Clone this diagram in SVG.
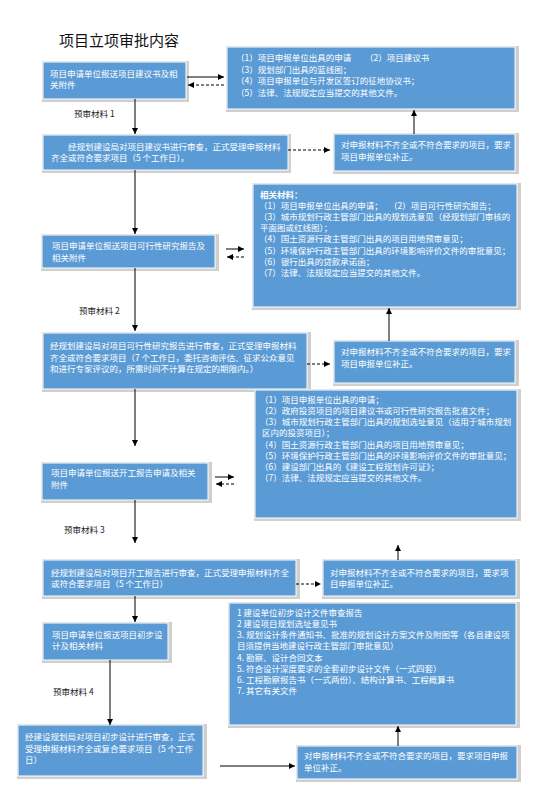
<svg xmlns="http://www.w3.org/2000/svg" width="560" height="792" viewBox="0 0 560 792">
<style>
.sh{fill:#cfcfcf}
.bx{fill:#5b9bd5;stroke:#ffffff;stroke-width:1}
.t{font-family:"Noto Sans CJK SC","Liberation Sans",sans-serif;font-size:8.5px;fill:#ffffff}
.b{font-weight:bold}
.lbl{font-family:"Noto Sans CJK SC","Liberation Sans",sans-serif;font-size:8.5px;fill:#222222}
.title{font-family:"Noto Sans CJK SC","Liberation Sans",sans-serif;font-size:15px;fill:#111111}
.ln{stroke:#000000;stroke-width:1;fill:none}
.ds{stroke:#000000;stroke-width:1;fill:none;stroke-dasharray:3,2}
.gr{stroke:#7f7f7f;stroke-width:1.8;fill:none}
</style>
<defs>
<marker id="ah" viewBox="0 0 6 6" refX="6" refY="3" markerWidth="6" markerHeight="6" markerUnits="userSpaceOnUse" orient="auto">
<path d="M0,0 L6,3 L0,6 z" fill="#000000"/>
</marker>
<marker id="ahg" viewBox="0 0 6 6" refX="6" refY="3" markerWidth="6" markerHeight="6" markerUnits="userSpaceOnUse" orient="auto">
<path d="M0,0 L6,3 L0,6 z" fill="#000000"/>
</marker>
</defs>
<rect width="560" height="792" fill="#ffffff"/>
<text class="title" x="59" y="46">项目立项审批内容</text>

<g id="n1">
<rect class="sh" x="42" y="61" width="147" height="41"/>
<rect class="bx" x="43" y="62" width="143" height="37"/>
<text class="t" x="50" y="76.5">项目申请单位报送项目建议书及相</text>
<text class="t" x="50" y="88">关附件</text>
</g>

<g id="n2">
<rect class="sh" x="226" y="46" width="293" height="66"/>
<rect class="bx" x="227" y="47" width="288" height="62"/>
<text class="t" x="236" y="61">（1）项目申报单位出具的申请</text>
<text class="t" x="365" y="61">（2）项目建议书</text>
<text class="t" x="236" y="72.5">（3）规划部门出具的蓝线图；</text>
<text class="t" x="236" y="84">（4）项目申报单位与开发区签订的征地协议书；</text>
<text class="t" x="236" y="95.5">（5）法律、法规规定应当提交的其他文件。</text>
</g>

<g id="n3">
<rect class="sh" x="42" y="134" width="249" height="39"/>
<rect class="bx" x="43" y="135" width="245" height="35"/>
<text class="t" x="68" y="149.5">经规划建设局对项目建议书进行审查，正式受理申报材料</text>
<text class="t" x="51" y="161">齐全或符合要求项目（5 个工作日）。</text>
</g>

<g id="n4">
<rect class="sh" x="333" y="133" width="186" height="41"/>
<rect class="bx" x="334" y="134" width="181" height="37"/>
<text class="t" x="341" y="148">对申报材料不齐全或不符合要求的项目，要求</text>
<text class="t" x="341" y="159.5">项目申报单位补正。</text>
</g>

<g id="n5">
<rect class="sh" x="252" y="183" width="269" height="127"/>
<rect class="bx" x="253" y="184" width="264" height="123"/>
<text class="t b" x="260" y="198">相关材料：</text>
<text class="t" x="259" y="209">（1）项目申报单位出具的申请；</text>
<text class="t" x="389" y="209">（2）项目可行性研究报告；</text>
<text class="t" x="259" y="220">（3）城市规划行政主管部门出具的规划选意见（经规划部门审核的</text>
<text class="t" x="260" y="231">平面图或红线图）；</text>
<text class="t" x="259" y="242">（4）国土资源行政主管部门出具的项目用地预审意见；</text>
<text class="t" x="259" y="253.5">（5）环境保护行政主管部门出具的环境影响评价文件的审批意见；</text>
<text class="t" x="259" y="264.5">（6）银行出具的贷款承诺函；</text>
<text class="t" x="259" y="275.5">（7）法律、法规规定应当提交的其他文件。</text>
</g>

<g id="n6">
<rect class="sh" x="41" y="234" width="178" height="37"/>
<rect class="bx" x="42" y="235" width="173" height="33"/>
<text class="t" x="52" y="249">项目申请单位报送项目可行性研究报告及</text>
<text class="t" x="52" y="260.5">相关附件</text>
</g>

<g id="n7">
<rect class="sh" x="42" y="332" width="269" height="60"/>
<rect class="bx" x="43" y="333" width="264" height="56"/>
<text class="t" x="50" y="349">经规划建设局对项目可行性研究报告进行审查，正式受理申报材料</text>
<text class="t" x="50" y="360.5">齐全或符合要求项目（7 个工作日，委托咨询评估、征求公众意见</text>
<text class="t" x="50" y="372">和进行专家评议的，所需时间不计算在规定的期限内。）</text>
</g>

<g id="n8">
<rect class="sh" x="333" y="340" width="186" height="46"/>
<rect class="bx" x="334" y="341" width="181" height="42"/>
<text class="t" x="341" y="355">对申报材料不齐全或不符合要求的项目，要求</text>
<text class="t" x="341" y="366.5">项目申报单位补正。</text>
</g>

<g id="n9">
<rect class="sh" x="254" y="389" width="267" height="132"/>
<rect class="bx" x="255" y="390" width="262" height="128"/>
<text class="t" x="260" y="403">（1）项目申报单位出具的申请；</text>
<text class="t" x="260" y="414">（2）政府投资项目的项目建议书或可行性研究报告批准文件；</text>
<text class="t" x="260" y="425">（3）城市规划行政主管部门出具的规划选址意见（适用于城市规划</text>
<text class="t" x="262" y="436">区内的投资项目）；</text>
<text class="t" x="260" y="447.5">（4）国土资源行政主管部门出具的项目用地预审意见；</text>
<text class="t" x="260" y="458.5">（5）环境保护行政主管部门出具的环境影响评价文件的审批意见；</text>
<text class="t" x="260" y="469.5">（6）建设部门出具的《建设工程规划许可证》；</text>
<text class="t" x="260" y="481">（7）法律、法规规定应当提交的其他文件。</text>
</g>

<g id="n10">
<rect class="sh" x="41" y="462" width="171" height="41"/>
<rect class="bx" x="42" y="463" width="166" height="37"/>
<text class="t" x="51" y="476">项目申请单位报送开工报告申请及相关</text>
<text class="t" x="51" y="487.5">附件</text>
</g>

<g id="n11">
<rect class="sh" x="42" y="559" width="258" height="40"/>
<rect class="bx" x="43" y="560" width="253" height="36"/>
<text class="t" x="51" y="575.5">经规划建设局对项目开工报告进行审查，正式受理申报材料齐全</text>
<text class="t" x="51" y="587">或符合要求项目（5 个工作日）</text>
</g>

<g id="n12">
<rect class="sh" x="322" y="559" width="198" height="40"/>
<rect class="bx" x="323" y="560" width="193" height="36"/>
<text class="t" x="330" y="575.5">对申报材料不齐全或不符合要求的项目，要求项</text>
<text class="t" x="330" y="587">目申报单位补正。</text>
</g>

<g id="n13">
<rect class="sh" x="228" y="602" width="292" height="126"/>
<rect class="bx" x="229" y="603" width="287" height="122"/>
<text class="t" x="237" y="616">1 建设单位初步设计文件审查报告</text>
<text class="t" x="237" y="627">2 建设项目规划选址意见书</text>
<text class="t" x="237" y="638">3. 规划设计条件通知书、批准的规划设计方案文件及附图等（各县建设项</text>
<text class="t" x="237" y="649">目须提供当地建设行政主管部门审批意见）</text>
<text class="t" x="237" y="660.5">4. 勘察、设计合同文本</text>
<text class="t" x="237" y="671.5">5. 符合设计深度要求的全套初步设计文件（一式四套）</text>
<text class="t" x="237" y="682.5">6. 工程勘察报告书（一式两份）、结构计算书、工程概算书</text>
<text class="t" x="237" y="694">7. 其它有关文件</text>
</g>

<g id="n14">
<rect class="sh" x="42" y="622" width="130" height="41"/>
<rect class="bx" x="43" y="623" width="125" height="37"/>
<text class="t" x="52" y="637.5">项目申请单位报送项目初步设</text>
<text class="t" x="52" y="649">计及相关材料</text>
</g>

<g id="n15">
<rect class="sh" x="17" y="724" width="190" height="55"/>
<rect class="bx" x="18" y="725" width="185" height="51"/>
<text class="t" x="25" y="740">经建设规划局对项目初步设计进行审查，正式</text>
<text class="t" x="25" y="751.5">受理申报材料齐全或复合要求项目（5 个工作</text>
<text class="t" x="25" y="763">日）</text>
</g>

<g id="n16">
<rect class="sh" x="296" y="745" width="225" height="37"/>
<rect class="bx" x="297" y="746" width="220" height="33"/>
<text class="t" x="304" y="759">对申报材料不齐全或不符合要求的项目，要求项目申报</text>
<text class="t" x="304" y="770.5">单位补正。</text>
</g>

<g id="labels">
<text class="lbl" x="74" y="116.5">预审材料 1</text>
<text class="lbl" x="79" y="314">预审材料 2</text>
<text class="lbl" x="64" y="533">预审材料 3</text>
<text class="lbl" x="53" y="695">预审材料 4</text>
</g>

<g id="connectors">
<line class="ln" x1="135" y1="99" x2="135" y2="134" marker-end="url(#ah)"/>
<line class="ln" x1="187" y1="77" x2="224" y2="77" marker-end="url(#ah)"/>
<line class="ds" x1="224" y1="85" x2="188" y2="85" marker-end="url(#ah)"/>
<line class="ds" x1="288" y1="150" x2="330" y2="150" marker-end="url(#ah)"/>
<line class="ln" x1="414" y1="134" x2="414" y2="110" marker-end="url(#ah)"/>
<line class="ln" x1="135" y1="170" x2="135" y2="234" marker-end="url(#ah)"/>
<line class="ln" x1="226" y1="249" x2="244" y2="249" marker-end="url(#ah)"/>
<line class="ds" x1="244" y1="257" x2="227" y2="257" marker-end="url(#ah)"/>
<line class="ln" x1="135" y1="268" x2="135" y2="331" marker-end="url(#ah)"/>
<line class="ds" x1="307" y1="364" x2="330" y2="364" marker-end="url(#ah)"/>
<line class="ln" x1="389" y1="341" x2="389" y2="308" marker-end="url(#ah)"/>
<line class="ln" x1="135" y1="389" x2="135" y2="446" marker-end="url(#ah)"/>
<line class="ln" x1="215" y1="477" x2="234" y2="477" marker-end="url(#ah)"/>
<line class="ds" x1="234" y1="484" x2="216" y2="484" marker-end="url(#ah)"/>
<line class="ln" x1="135" y1="500" x2="135" y2="543" marker-end="url(#ah)"/>
<line class="ds" x1="296" y1="584" x2="321" y2="584" marker-end="url(#ah)"/>
<line class="ln" x1="398" y1="560" x2="398" y2="545" marker-end="url(#ah)"/>
<line class="ln" x1="135" y1="596" x2="135" y2="622" marker-end="url(#ah)"/>
<line class="ln" x1="110" y1="660" x2="110" y2="725" marker-end="url(#ah)"/>
<line class="gr" x1="220" y1="766" x2="295" y2="766" marker-end="url(#ahg)"/>
<line class="ln" x1="398" y1="746" x2="398" y2="726" marker-end="url(#ah)"/>
</g>
</svg>
